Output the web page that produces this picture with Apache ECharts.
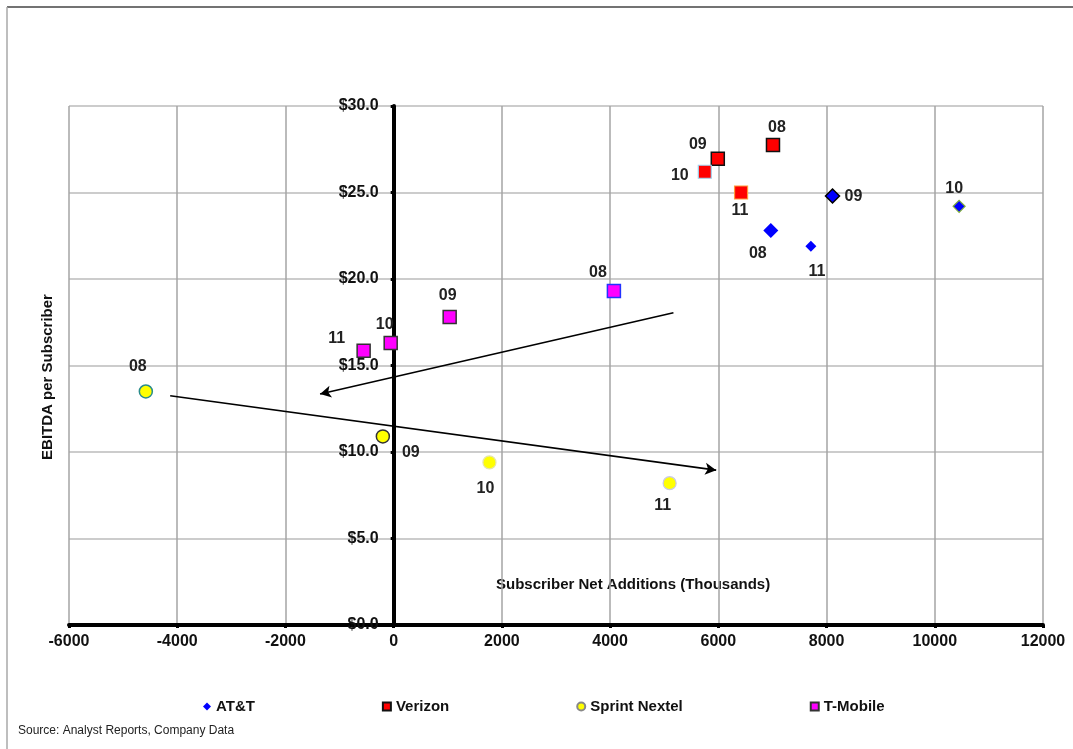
<!DOCTYPE html>
<html>
<head>
<meta charset="utf-8">
<script src="https://cdn.jsdelivr.net/npm/echarts@6/dist/echarts.min.js"></script>
<style>
  html, body { margin: 0; padding: 0; background: #fff; }
  #chart { width: 1073px; height: 749px; }
</style>
</head>
<body>
<div id="chart"></div>
<script>
// Year labels shared by every carrier
const years = ['08', '09', '10', '11'];

// Subscriber net additions (thousands) and EBITDA per subscriber ($)
const attX = [6970, 8110, 10450, 7710];
const attY = [22.8, 24.8, 24.2, 21.9];
const verizonX = [7010, 5990, 5750, 6420];
const verizonY = [27.75, 26.95, 26.2, 25.0];
const sprintX = [-4580, -200, 1770, 5100];
const sprintY = [13.5, 10.9, 9.4, 8.2];
const tmobileX = [4070, 1035, -55, -555];
const tmobileY = [19.3, 17.8, 16.3, 15.85];

// Trend arrows: [start, end]
const sprintTrend = [[-4130, 13.25], [5960, 8.95]];
const tmobileTrend = [[5170, 18.05], [-1360, 13.35]];

// Axis ticks
const xTicks = { min: -6000, max: 12000, step: 2000 };
const yTicks = { min: 0, max: 30, step: 5 };

// Label placement (pixel offsets from each marker) and marker outlines
const attLabelOffset = [[-13, 23], [21, 1], [-5, -18], [6, 25]];
const verizonLabelOffset = [[4, -17], [-20, -14], [-25, 4], [-1, 18]];
const sprintLabelOffset = [[-8, -25], [28, 16], [-4, 26], [-7, 22]];
const tmobileLabelOffset = [[-16, -19], [-2, -21], [-6, -18], [-27, -12]];

const attBorder = [['#0000ff', 0], ['#000000', 1.5], ['#7fae3a', 1.2], ['#0000ff', 0]];
const attSize = [15, 14, 12, 11];
const verizonBorder = [['#111111', 1.5], ['#111111', 1.5], ['#9fd3ef', 1.2], ['#ff9a3c', 1.2]];
const sprintBorder = [['#2a8c8c', 1.5], ['#333333', 1.5], ['#e6e6a8', 1.2], ['#c9c9e6', 1.2]];
const tmobileBorder = [['#2233ff', 1.5], ['#333333', 1.5], ['#333333', 1.5], ['#333333', 1.5]];

const FONT = "'Liberation Sans', Arial, sans-serif";

// Plot rectangle
const GRID = { left: 69, right: 30, top: 106, bottom: 124 };
const CHART_W = 1073;
// The value axis crosses the category axis at x = 0: shift it right by that fraction of the plot width
const plotW = CHART_W - GRID.left - GRID.right;
const yAxisShift = plotW * (0 - xTicks.min) / (xTicks.max - xTicks.min);

function points(xs, ys, offsets, borders, sizes) {
  return xs.map((x, i) => {
    const item = {
      value: [x, ys[i]],
      name: years[i],
      label: { offset: offsets[i] },
      itemStyle: { borderColor: borders[i][0], borderWidth: borders[i][1] }
    };
    if (sizes) item.symbolSize = sizes[i];
    return item;
  });
}

const labelStyle = {
  show: true,
  position: 'inside',
  formatter: p => p.name,
  fontFamily: FONT,
  fontWeight: 'bold',
  fontSize: 16,
  color: '#222'
};

function trendLine(seg) {
  return {
    silent: true,
    symbol: ['none', 'arrow'],
    symbolSize: [9, 11],
    label: { show: false },
    lineStyle: { color: '#000', width: 1.6, type: 'solid' },
    data: [[{ coord: seg[0] }, { coord: seg[1] }]]
  };
}

const chart = echarts.init(document.getElementById('chart'), null, { renderer: 'canvas' });

chart.setOption({
  animation: false,
  backgroundColor: '#ffffff',
  grid: { left: GRID.left, right: GRID.right, top: GRID.top, bottom: GRID.bottom, containLabel: false },
  xAxis: {
    type: 'value',
    min: xTicks.min,
    max: xTicks.max,
    interval: xTicks.step,
    axisLine: { show: true, onZero: false, lineStyle: { color: '#000', width: 4 } },
    axisTick: { show: true, length: 3, lineStyle: { color: '#000', width: 3 } },
    axisLabel: {
      fontFamily: FONT, fontWeight: 'bold', fontSize: 16, color: '#111', margin: 9,
      formatter: v => String(v)
    },
    splitLine: { show: true, lineStyle: { color: '#a4a4a4', width: 1.5 } }
  },
  yAxis: {
    type: 'value',
    min: yTicks.min,
    max: yTicks.max,
    interval: yTicks.step,
    offset: -yAxisShift,
    axisLine: { show: true, onZero: false, lineStyle: { color: '#000', width: 4 } },
    axisTick: { show: true, length: 3, lineStyle: { color: '#000', width: 3 } },
    axisLabel: {
      fontFamily: FONT, fontWeight: 'bold', fontSize: 16, color: '#111', margin: 15,
      formatter: v => '$' + v.toFixed(1)
    },
    splitLine: { show: true, lineStyle: { color: '#cccccc', width: 2 } }
  },
  legend: {
    left: 198,
    top: 694,
    itemWidth: 8,
    itemHeight: 8,
    itemGap: 127,
    textStyle: { fontFamily: FONT, fontWeight: 'bold', fontSize: 15, color: '#111' },
    data: [
      { name: 'AT&T', icon: 'diamond' },
      { name: 'Verizon', icon: 'rect' },
      { name: 'Sprint Nextel', icon: 'circle' },
      { name: 'T-Mobile', icon: 'rect' }
    ]
  },
  graphic: [
    { type: 'line', shape: { x1: 7, y1: 7, x2: 1073, y2: 7 }, style: { stroke: '#444', lineWidth: 1.5 } },
    { type: 'line', shape: { x1: 7, y1: 7, x2: 7, y2: 749 }, style: { stroke: '#a8a8a8', lineWidth: 1.5 } },
    {
      type: 'text', left: 496, top: 577,
      style: { text: 'Subscriber Net Additions (Thousands)', font: "bold 15px 'Liberation Sans', Arial, sans-serif", fill: '#111' }
    },
    {
      type: 'text', x: 48, y: 377, rotation: Math.PI / 2,
      style: {
        text: 'EBITDA per Subscriber', font: "bold 15px 'Liberation Sans', Arial, sans-serif",
        fill: '#111', align: 'center', verticalAlign: 'middle'
      }
    },
    {
      type: 'text', left: 18, top: 725,
      style: { text: 'Source: Analyst Reports, Company Data', font: "12px 'Liberation Sans', Arial, sans-serif", fill: '#222' }
    }
  ],
  series: [
    {
      name: 'AT&T',
      type: 'scatter',
      symbol: 'diamond',
      symbolSize: 13,
      itemStyle: { color: '#0000ff', opacity: 1 },
      label: labelStyle,
      data: points(attX, attY, attLabelOffset, attBorder, attSize),
      z: 5
    },
    {
      name: 'Verizon',
      type: 'scatter',
      symbol: 'rect',
      symbolSize: 13,
      itemStyle: { color: '#ff0000', borderColor: '#111', borderWidth: 1, opacity: 1 },
      label: labelStyle,
      data: points(verizonX, verizonY, verizonLabelOffset, verizonBorder),
      z: 5
    },
    {
      name: 'Sprint Nextel',
      type: 'scatter',
      symbol: 'circle',
      symbolSize: 13,
      itemStyle: { color: '#ffff00', borderColor: '#888', borderWidth: 1, opacity: 1 },
      label: labelStyle,
      data: points(sprintX, sprintY, sprintLabelOffset, sprintBorder),
      markLine: trendLine(sprintTrend),
      z: 5
    },
    {
      name: 'T-Mobile',
      type: 'scatter',
      symbol: 'rect',
      symbolSize: 13,
      itemStyle: { color: '#ff00ff', borderColor: '#333', borderWidth: 1, opacity: 1 },
      label: labelStyle,
      data: points(tmobileX, tmobileY, tmobileLabelOffset, tmobileBorder),
      markLine: trendLine(tmobileTrend),
      z: 5
    }
  ]
});
</script>
</body>
</html>
